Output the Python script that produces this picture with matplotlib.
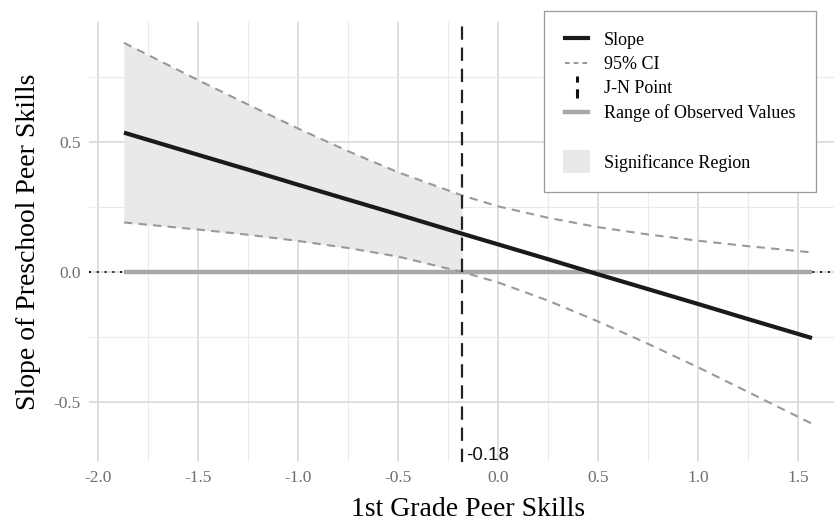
import matplotlib
matplotlib.use("Agg")
import matplotlib.pyplot as plt
import numpy as np
from matplotlib.lines import Line2D
from matplotlib.patches import Rectangle
from matplotlib.legend_handler import HandlerBase
from matplotlib.ticker import MultipleLocator

# ---- data ----
moderator = [-1.87, -1.5, -1.25, -1.0, -0.75, -0.5, -0.18, 0.0, 0.25, 0.5, 0.75, 1.0, 1.25, 1.57]
slope = [0.535, 0.450, 0.393, 0.335, 0.278, 0.221, 0.147, 0.106, 0.049, -0.009, -0.066, -0.123, -0.181, -0.254]
ci_upper = [0.880, 0.737, 0.643, 0.551, 0.464, 0.383, 0.294, 0.252, 0.208, 0.172, 0.144, 0.120, 0.099, 0.075]
ci_lower = [0.190, 0.163, 0.143, 0.119, 0.092, 0.059, 0.000, -0.040, -0.110, -0.190, -0.276, -0.366, -0.461, -0.583]
jn_point = -0.18
observed_range = [-1.87, 1.57]
x_ticks = [-2.0, -1.5, -1.0, -0.5, 0.0, 0.5, 1.0, 1.5]
y_ticks = [-0.5, 0.0, 0.5]

SERIF = ["Liberation Serif", "DejaVu Serif"]
SANS = ["Liberation Sans", "DejaVu Sans"]

fig = plt.figure(figsize=(8.34, 5.26), dpi=100)
W, H = 834, 526
# panel runs slightly past the right edge of the image, as in the reference
ax = fig.add_axes([89 / W, 1 - 462 / H, (847 - 89) / W, (462 - 22) / H])

x = np.array(moderator)
lo = np.array(ci_lower)
hi = np.array(ci_upper)

# grid
ax.set_xlim(-2.045, 1.745)
ax.set_ylim(-0.73, 0.96)
ax.xaxis.set_major_locator(MultipleLocator(0.5))
ax.xaxis.set_minor_locator(MultipleLocator(0.25))
ax.yaxis.set_major_locator(MultipleLocator(0.5))
ax.yaxis.set_minor_locator(MultipleLocator(0.25))
ax.grid(which="major", color="#d6d6d6", linewidth=1.1)
ax.grid(which="minor", color="#ebebeb", linewidth=0.8)
ax.set_axisbelow(True)
for s in ax.spines.values():
    s.set_visible(False)
ax.tick_params(which="both", length=0)
ax.tick_params(axis="both", labelsize=12.5, labelcolor="#6e6e6e", pad=6)
ax.set_xticks(x_ticks)
ax.set_yticks(y_ticks)
ax.set_xticklabels([f"{v:.1f}" for v in x_ticks], family=SERIF)
ax.set_yticklabels([f"{v:.1f}" for v in y_ticks], family=SERIF)

# significance region
mask = x <= jn_point
ax.fill_between(x[mask], lo[mask], hi[mask], color="#e9e9ec", linewidth=0, zorder=1)

# zero line (dotted) and observed range
ax.axhline(0, color="#111111", linestyle=(0, (1, 3)), linewidth=1.4, zorder=2)
ax.plot(observed_range, [0, 0], color="#a8a8ab", linewidth=3.2, solid_capstyle="butt", zorder=3)

# CI
ax.plot(x, hi, color="#999999", linestyle=(0, (4, 3)), linewidth=1.5, zorder=4)
ax.plot(x, lo, color="#999999", linestyle=(0, (4, 3)), linewidth=1.5, zorder=4)

# slope
ax.plot(x, slope, color="#1a1a1a", linewidth=3.0, solid_capstyle="butt", zorder=5)

# JN point
ax.axvline(jn_point, color="#222222", linestyle=(0, (6, 3.5)), linewidth=1.6, zorder=6)
ax.text(jn_point + 0.02, -0.705, f"{jn_point:.2f}", family=SANS, fontsize=13.5,
        ha="left", va="center", color="#111111", zorder=7)

ax.set_xlabel("1st Grade Peer Skills", family=SERIF, fontsize=20, labelpad=8)
ax.set_ylabel("Slope of Preschool Peer Skills", family=SERIF, fontsize=20, labelpad=9)


class HandlerVDash(HandlerBase):
    def create_artists(self, legend, orig_handle, xdescent, ydescent, width, height, fontsize, trans):
        cx = -xdescent + width / 2
        l = Line2D([cx, cx], [-ydescent - 0.35 * height, -ydescent + 1.35 * height],
                   color="#111111", linewidth=2.2, linestyle=(0, (3, 2.2)), transform=trans)
        return [l]


class HandlerBigPatch(HandlerBase):
    def create_artists(self, legend, orig_handle, xdescent, ydescent, width, height, fontsize, trans):
        r = Rectangle((-xdescent - 0.07 * width, -ydescent - 0.4 * height), width * 1.15, height * 1.8,
                      facecolor="#e9e9ec", edgecolor="none", transform=trans)
        return [r]


class VDash:
    pass


class BigPatch:
    pass


handles = [
    Line2D([], [], color="#1a1a1a", linewidth=3.0),
    Line2D([], [], color="#999999", linewidth=1.5, linestyle=(0, (2.2, 2))),
    VDash(),
    Line2D([], [], color="#a8a8ab", linewidth=3.2),
    Line2D([], [], color="none"),
    BigPatch(),
]
labels = ["Slope", "95% CI", "J-N Point", "Range of Observed Values", " ", "Significance Region"]

leg = fig.legend(handles, labels, loc="upper right", bbox_to_anchor=(816 / W, 1 - 11 / H),
                 prop={"family": SERIF, "size": 13}, frameon=True, fancybox=False,
                 edgecolor="#9a9a9a", framealpha=1, borderpad=1.15, handlelength=1.3,
                 handletextpad=0.85, labelspacing=0.4, borderaxespad=0,
                 handler_map={VDash: HandlerVDash(), BigPatch: HandlerBigPatch()})
leg.get_frame().set_linewidth(0.9)

fig.savefig("out.png", dpi=100)
